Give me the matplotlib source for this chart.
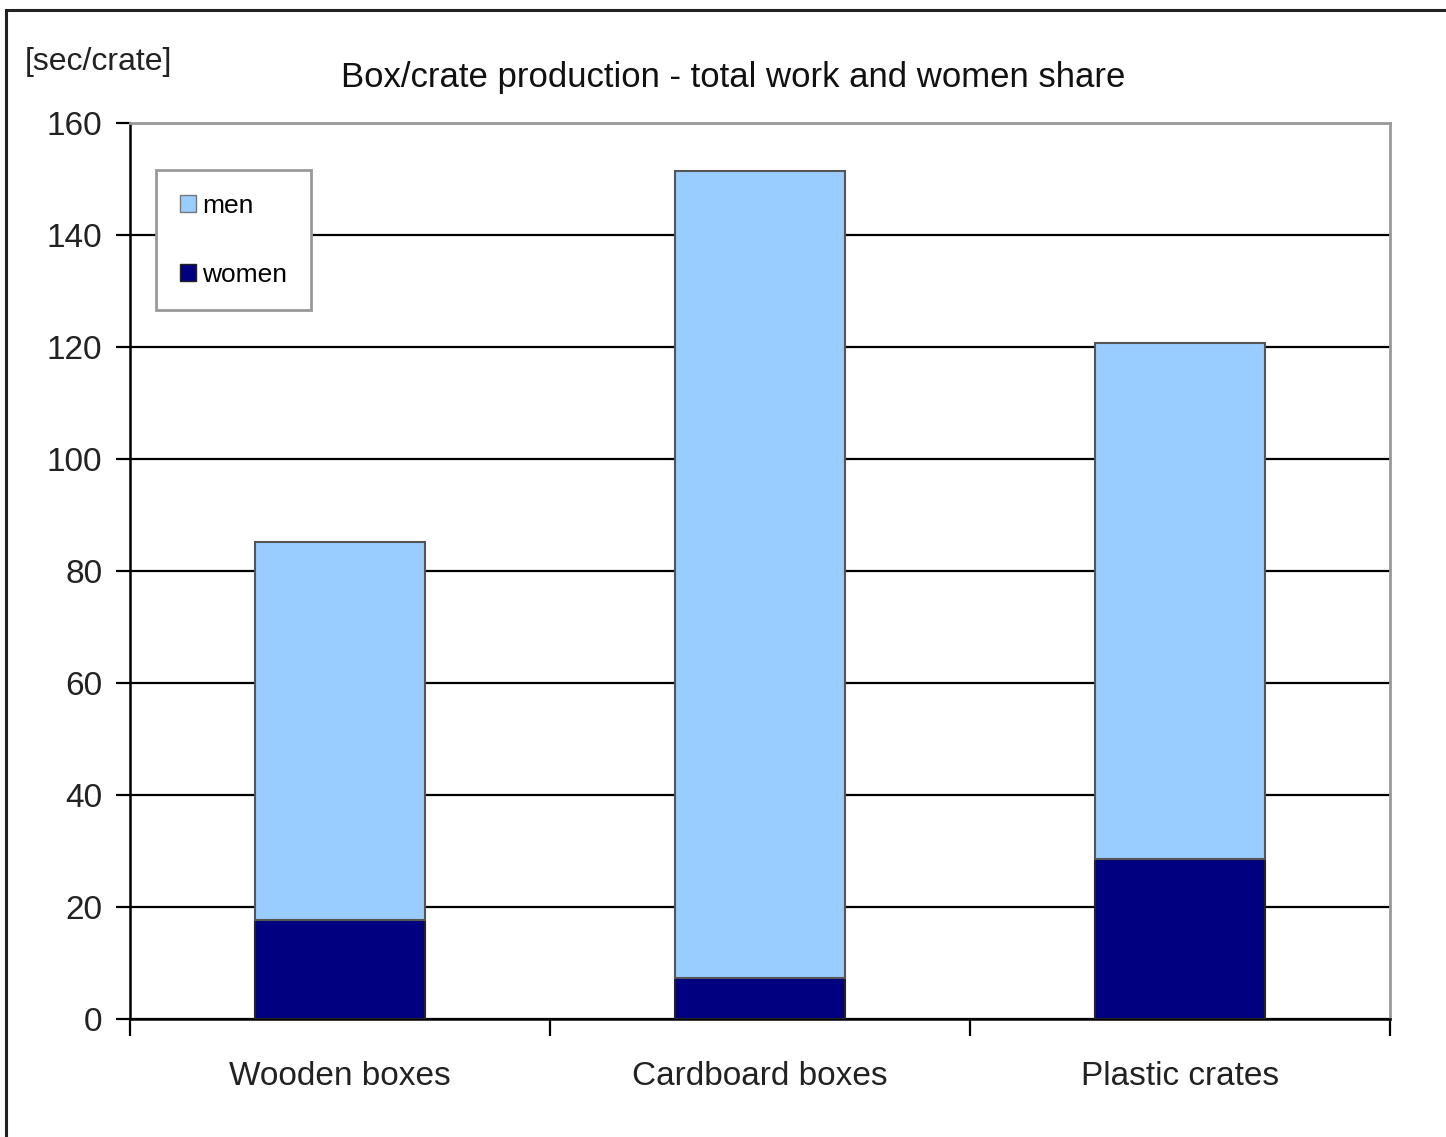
import matplotlib.pyplot as plt
import matplotlib.patches as mpatches
import numpy as np

# values [sec/crate]
categories = ['Wooden boxes', 'Cardboard boxes', 'Plastic crates']
women = [17.7, 7.3, 28.5]
men = [67.5, 144.1, 92.2]   # stacked on top of women

plt.rcParams['font.family'] = ['Liberation Sans Narrow', 'Liberation Sans', 'DejaVu Sans']

fig = plt.figure(figsize=(14.46, 11.37), dpi=100)
ax = fig.add_axes([130/1446, 1 - 1019/1137, 1260/1446, 896/1137])

x = np.arange(len(categories))
w = 0.405
ax.bar(x, women, w, color='#000080', edgecolor='#222222', linewidth=1.5, label='women', zorder=3)
ax.bar(x, men, w, bottom=women, color='#99CCFF', edgecolor='#555555', linewidth=1.5, label='men', zorder=3)

ax.set_xlim(-0.5, 2.5)
ax.set_ylim(0, 160)
ax.set_yticks(np.arange(0, 161, 20))
ax.yaxis.grid(True, color='black', linewidth=1.6)
ax.set_axisbelow(True)

ax.set_xticks(x)
ax.set_xticklabels(categories, fontsize=24, color='#222222')
ax.set_xticks([-0.5, 0.5, 1.5, 2.5], minor=True)
ax.tick_params(axis='x', which='major', length=0, pad=30)
ax.tick_params(axis='x', which='minor', length=12, width=1.6, direction='out', color='black')
ax.tick_params(axis='y', length=10, width=1.6, direction='out', labelsize=24, labelcolor='#222222', pad=10)

for s in ['top', 'right']:
    ax.spines[s].set_color('#999999')
    ax.spines[s].set_linewidth(2)
for s in ['left', 'bottom']:
    ax.spines[s].set_color('black')
    ax.spines[s].set_linewidth(1.8)

fig.text(25/1446, 1 - 62/1137, '[sec/crate]', fontsize=23, color='#222222', va='center', ha='left')
fig.text(733/1446, 1 - 77/1137, 'Box/crate production - total work and women share',
         fontsize=25, color='#111111', va='center', ha='center')

handles = [mpatches.Patch(facecolor='#99CCFF', edgecolor='#777777', label='men'),
           mpatches.Patch(facecolor='#000080', edgecolor='#222222', label='women')]
leg = ax.legend(handles=handles, loc='upper left', bbox_to_anchor=(26/1260, (1019-170)/896),
                borderaxespad=0, fontsize=19, fancybox=False, framealpha=1,
                handlelength=0.6, handleheight=0.6, handletextpad=0.25,
                labelspacing=1.7, borderpad=0.9, edgecolor='#999999')
leg.get_frame().set_linewidth(2)
leg.set_zorder(5)

# outer frame of the chart (right/bottom sides are cut off)
fig.patches.append(mpatches.Rectangle((6/1446, -0.05), 1.1, 1.05 - 10/1137, transform=fig.transFigure,
                                      fill=False, edgecolor='#222222', linewidth=2.2))

fig.savefig('out.png', dpi=100)
